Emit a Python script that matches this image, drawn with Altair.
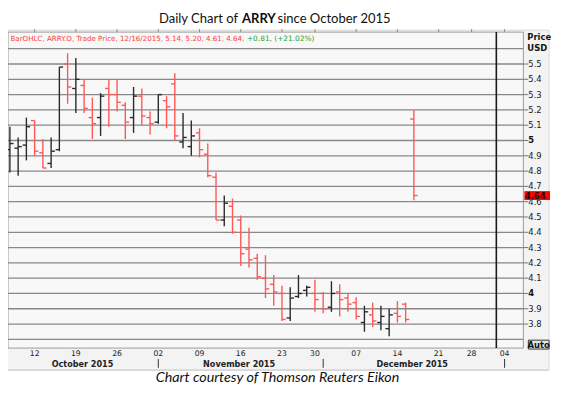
import altair as alt
import pandas as pd

# ---------------- data ----------------
sessions = [
    "2015-10-07", "2015-10-08", "2015-10-09", "2015-10-12", "2015-10-13", "2015-10-14",
    "2015-10-15", "2015-10-16", "2015-10-19", "2015-10-20", "2015-10-21", "2015-10-22",
    "2015-10-23", "2015-10-26", "2015-10-27", "2015-10-28", "2015-10-29", "2015-10-30",
    "2015-11-02", "2015-11-03", "2015-11-04", "2015-11-05", "2015-11-06", "2015-11-09",
    "2015-11-10", "2015-11-11", "2015-11-12", "2015-11-13", "2015-11-16", "2015-11-17",
    "2015-11-18", "2015-11-19", "2015-11-20", "2015-11-23", "2015-11-24", "2015-11-25",
    "2015-11-27", "2015-11-30", "2015-12-01", "2015-12-02", "2015-12-03", "2015-12-04",
    "2015-12-07", "2015-12-08", "2015-12-09", "2015-12-10", "2015-12-11", "2015-12-14",
    "2015-12-15", "2015-12-16", "2015-12-17", "2015-12-18", "2015-12-21", "2015-12-22",
    "2015-12-23", "2015-12-24", "2015-12-28", "2015-12-29", "2015-12-30", "2015-12-31",
    "2016-01-04", "2016-01-05", "2016-01-06",
]

opens = [4.94, 4.95, 4.97, 5.13, 4.92, 4.85, 4.94, 5.50, 5.34, 5.36,
         5.15, 5.15, 5.34, 5.30, 5.23, 5.15, 5.29, 5.15, 5.12, 5.26,
         5.37, 4.99, 4.96, 5.05, 4.91, 4.76, 4.48, 4.57, 4.48, 4.29,
         4.23, 4.10, 4.06, 4.00, 3.84, 3.98, 4.02, 4.00, 4.00, 3.91,
         4.01, 3.97, 3.94, 3.81, 3.86, 3.81, 3.77, 3.87, 3.93, 5.14]
highs = [5.09, 5.02, 5.15, 5.13, 5.01, 5.02, 5.48, 5.57, 5.54, 5.40,
         5.28, 5.31, 5.40, 5.40, 5.25, 5.35, 5.34, 5.19, 5.30, 5.29,
         5.44, 5.18, 5.13, 5.08, 4.98, 4.79, 4.64, 4.62, 4.51, 4.43,
         4.26, 4.25, 4.12, 4.05, 4.04, 4.12, 4.05, 4.09, 4.01, 4.08,
         4.06, 4.00, 3.975, 3.92, 3.94, 3.92, 3.90, 3.95, 3.94, 5.20]
lows = [4.79, 4.77, 4.87, 4.90, 4.82, 4.82, 4.93, 5.24, 5.18, 5.18,
        5.01, 5.03, 5.09, 5.19, 5.01, 5.05, 5.10, 5.04, 5.11, 5.08,
        5.00, 4.95, 4.90, 4.89, 4.76, 4.48, 4.44, 4.39, 4.18, 4.17,
        4.09, 3.97, 3.92, 3.82, 3.82, 3.97, 3.98, 3.88, 3.87, 3.88,
        3.85, 3.88, 3.83, 3.75, 3.78, 3.76, 3.72, 3.81, 3.81, 4.61]
closes = [4.98, 4.96, 5.09, 4.93, 4.82, 4.93, 5.48, 5.35, 5.40, 5.21,
          5.11, 5.29, 5.30, 5.25, 5.12, 5.29, 5.16, 5.11, 5.30, 5.22,
          5.03, 5.02, 5.03, 4.94, 4.77, 4.48, 4.59, 4.40, 4.26, 4.22,
          4.11, 4.03, 4.01, 3.83, 3.97, 4.00, 4.04, 3.96, 3.90, 4.00,
          3.96, 3.93, 3.85, 3.88, 3.82, 3.85, 3.86, 3.85, 3.83, 4.64]

tick_dates = ["2015-10-12", "2015-10-19", "2015-10-26", "2015-11-02", "2015-11-09",
              "2015-11-16", "2015-11-23", "2015-11-30", "2015-12-07", "2015-12-14",
              "2015-12-21", "2015-12-28", "2016-01-04"]
tick_labels = ["12", "19", "26", "02", "09", "16", "23", "30", "07", "14", "21", "28", "04"]

month_names = ["October 2015", "November 2015", "December 2015"]
month_keys = ["2015-10", "2015-11", "2015-12"]
month_starts = ["2015-11-02", "2015-12-01", "2016-01-04"]
year_end = "2015-12-31"

price_ticks = [3.8, 3.9, 4.0, 4.1, 4.2, 4.3, 4.4, 4.5, 4.6, 4.7, 4.8, 4.9,
               5.0, 5.1, 5.2, 5.3, 5.4, 5.5]
price_labels = ["3.8", "3.9", "4", "4.1", "4.2", "4.3", "4.4", "4.5", "4.6", "4.7",
                "4.8", "4.9", "5", "5.1", "5.2", "5.3", "5.4", "5.5"]
bold_labels = ["4", "5"]
grid_levels = [3.7] + price_ticks + [5.6]

header_red = "BarOHLC, ARRY.O, Trade Price,  12/16/2015, 5.14, 5.20, 4.61, 4.64,"
header_green = "+0.81, (+21.02%)"
last_close_label = "4.64"

# ---------------- derived tables ----------------
idx_of = {d: i for i, d in enumerate(sessions)}
bars = pd.DataFrame({
    "date": sessions[:len(opens)],
    "idx": list(range(len(opens))),
    "open": opens, "high": highs, "low": lows, "close": closes,
})
bars["dir"] = ["down" if c < o else "up" for o, c in zip(opens, closes)]

tick_idx = [idx_of[d] for d in tick_dates]
ticks_df = pd.DataFrame({"idx": tick_idx, "lab": tick_labels})
sep_df = pd.DataFrame({"idx": [idx_of[d] for d in month_starts]})
year_df = pd.DataFrame({"idx": [idx_of[year_end]]})
month_centers = []
for k in month_keys:
    ii = [i for d, i in idx_of.items() if d.startswith(k) and d <= year_end]
    month_centers.append((min(ii) + max(ii)) / 2 + 0.3)
months_df = pd.DataFrame({"name": month_names, "c": month_centers})
grid_df = pd.DataFrame({"level": grid_levels})
ylab_df = pd.DataFrame({"v": price_ticks, "lab": price_labels})
ylab_df["bold"] = ylab_df["lab"].isin(bold_labels)
last_df = pd.DataFrame({"p": [closes[-1]], "t": [last_close_label]})

W, H = 522, 320
xscale = alt.Scale(domain=[-0.23, 62.28], nice=False, zero=False)
yscale = alt.Scale(domain=[3.643, 5.7085], nice=False, zero=False)
RED = "#ff5757"
BLK = "#2a2a2a"
one = pd.DataFrame({"a": [0]})
X = lambda f: alt.X(f, scale=xscale, axis=None)
Y = lambda f: alt.Y(f, scale=yscale, axis=None)


def txt(s, x, y, **kw):
    return alt.Chart(pd.DataFrame({"t": [s]})).mark_text(**kw).encode(
        x=alt.value(x), y=alt.value(y), text="t:N")


panel = alt.Chart(one).mark_rect(fill="#f3f3f3", stroke="#d8d8d8", strokeWidth=1).encode(
    x=alt.value(-2), x2=alt.value(548), y=alt.value(-2), y2=alt.value(342))
plotbg = alt.Chart(one).mark_rect(fill="#f8f8f8", stroke="#9a9a9a", strokeWidth=1).encode(
    x=alt.value(0), x2=alt.value(W), y=alt.value(0), y2=alt.value(H))

grid = alt.Chart(grid_df).mark_rule(color="#888888", strokeWidth=1.3).encode(y=Y("level:Q"))

# right price axis: tick marks and labels
yticks = alt.Chart(ylab_df).mark_rule(color="#777777", strokeWidth=1).encode(
    x=alt.value(W), x2=alt.value(W + 5), y=Y("v:Q"))
ylab_n = alt.Chart(ylab_df).transform_filter("!datum.bold").mark_text(
    font="DejaVu Sans", fontSize=8.5, color="#222222", align="left", baseline="middle").encode(
    x=alt.value(W + 5), y=Y("v:Q"), text="lab:N")
ylab_b = alt.Chart(ylab_df).transform_filter("datum.bold").mark_text(
    font="DejaVu Sans", fontSize=8.5, fontWeight="bold", color="#111111", align="left",
    baseline="middle").encode(x=alt.value(W + 5), y=Y("v:Q"), text="lab:N")

yearline = alt.Chart(year_df).mark_rule(color="#1a1a1a", strokeWidth=1.6).encode(x=X("idx:Q"))

color_enc = alt.Color("dir:N", scale=alt.Scale(domain=["down", "up"], range=[RED, BLK]), legend=None)

hl = alt.Chart(bars).mark_rule(strokeWidth=1.4).encode(
    x=X("idx:Q"), y=Y("low:Q"), y2="high:Q", color=color_enc)
otick = alt.Chart(bars).transform_calculate(xo="datum.idx - 0.45").mark_rule(strokeWidth=1.4).encode(
    x=X("xo:Q"), x2="idx:Q", y=Y("open:Q"), color=color_enc)
ctick = alt.Chart(bars).transform_calculate(xc="datum.idx + 0.45").mark_rule(strokeWidth=1.4).encode(
    x=X("idx:Q"), x2="xc:Q", y=Y("close:Q"), color=color_enc)

# date axis
topticks = alt.Chart(ticks_df).mark_rule(color="#888888", strokeWidth=1).encode(
    x=X("idx:Q"), y=alt.value(-3), y2=alt.value(0))
xlabs = alt.Chart(ticks_df).mark_text(font="DejaVu Sans", fontSize=7.8, color="#222222",
                                      baseline="middle").encode(
    x=X("idx:Q"), y=alt.value(326.5), text="lab:N")
septicks = alt.Chart(sep_df).mark_rule(color="#333333", strokeWidth=1).encode(
    x=X("idx:Q"), y=alt.value(331), y2=alt.value(340))
monthlab = alt.Chart(months_df).mark_text(font="DejaVu Sans", fontSize=8.2, fontWeight="bold",
                                          color="#222222", baseline="middle").encode(
    x=X("c:Q"), y=alt.value(337), text="name:N")

bottomline = alt.Chart(one).mark_rule(color="#cfcfcf", strokeWidth=1).encode(
    x=alt.value(-2), x2=alt.value(548), y=alt.value(342.5))

lastbox = alt.Chart(last_df).mark_rule(color="#ff0000", strokeWidth=9).encode(
    x=alt.value(523), x2=alt.value(549), y=Y("p:Q"))
lasttxt = alt.Chart(last_df).mark_text(font="DejaVu Sans", fontSize=8.5, fontWeight="bold",
                                       color="#111111", align="left", baseline="middle").encode(
    x=alt.value(523.5), y=Y("p:Q"), text="t:N")

autobox = alt.Chart(one).mark_rect(fill="#e6e6e6", stroke="#333333", strokeWidth=1).encode(
    x=alt.value(527), x2=alt.value(548), y=alt.value(312), y2=alt.value(321))
autotxt = txt("Auto", 537.5, 316.8, font="DejaVu Sans", fontSize=8.5, fontWeight="bold",
              color="#111111", align="center", baseline="middle")

price1 = txt("Price", 526, 4.7, font="DejaVu Sans", fontSize=8.5, fontWeight="bold",
             color="#111111", align="left", baseline="middle")
price2 = txt("USD", 526, 15.7, font="DejaVu Sans", fontSize=8.5, fontWeight="bold",
             color="#111111", align="left", baseline="middle")

hdr1 = txt(header_red, 2.5, 6.5, font="DejaVu Sans", fontSize=7.2, color="#ff4040",
           align="left", baseline="middle")
hdr2 = txt(header_green, 242, 6.5, font="DejaVu Sans", fontSize=7.5, color="#2ca02c",
           align="left", baseline="middle")

t1 = txt("Daily Chart of", 233, -13, font="Lato", fontSize=13.2, color="#111111",
         align="right", baseline="middle")
t2 = txt("ARRY", 237, -13, font="Lato", fontSize=13.2, fontWeight="bold", color="#111111",
         align="left", baseline="middle")
t3 = txt("since October 2015", 273, -13, font="Lato", fontSize=13.2, color="#111111",
         align="left", baseline="middle")

caption = txt("Chart courtesy of Thomson Reuters Eikon", 273, 354, font="Lato", fontSize=14.5,
              fontStyle="italic", color="#111111", align="center", baseline="alphabetic")

chart = alt.layer(
    panel, plotbg, grid, yticks, ylab_n, ylab_b, yearline, hl, otick, ctick, topticks, xlabs,
    septicks, monthlab, bottomline, lastbox, lasttxt, autobox, autotxt, price1, price2,
    hdr1, hdr2, t1, t2, t3, caption,
).properties(
    width=W, height=H,
    autosize=alt.AutoSizeParams(type="none"),
    padding={"left": 0, "top": 22, "right": 30, "bottom": 37},
).configure_view(stroke=None).configure(background="white")

chart.save("out.html", embed_options={"renderer": "svg", "actions": False})
